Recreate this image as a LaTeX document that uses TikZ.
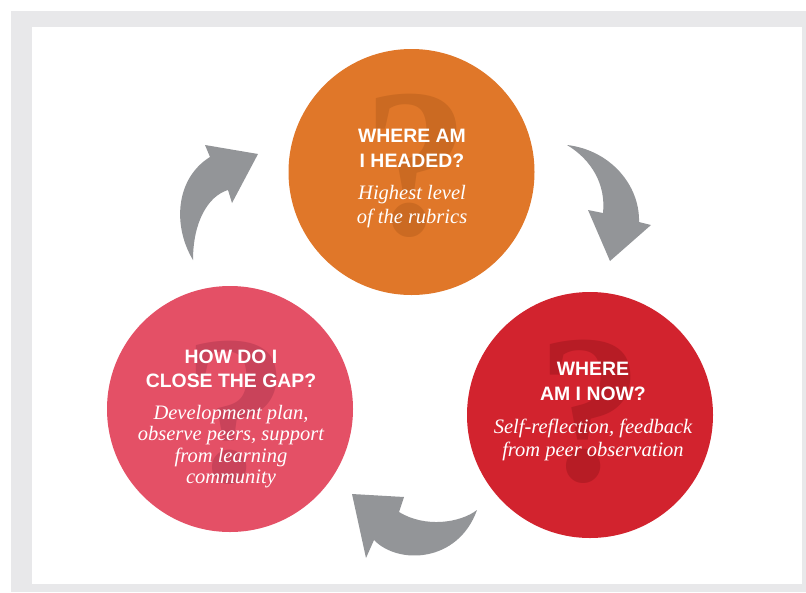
\documentclass[tikz,border=0pt]{standalone}
\usepackage{fontspec}
\setmainfont{Liberation Serif}
\setsansfont{Liberation Sans}
\definecolor{framegray}{HTML}{E8E8EA}
\definecolor{arrowgray}{HTML}{939598}
\definecolor{corange}{HTML}{E07729}
\definecolor{qorange}{HTML}{CB6A22}
\definecolor{cpink}{HTML}{E45066}
\definecolor{qpink}{HTML}{C9435A}
\definecolor{cred}{HTML}{D2232E}
\definecolor{qred}{HTML}{B71C25}
\tikzset{
  circ/.style={circle, inner sep=0pt, minimum size=246pt},
  qmark/.style={anchor=base, inner sep=0pt, font=\fontsize{212}{212}\selectfont\bfseries},
  head/.style={anchor=base, inner sep=0pt, text=white, font=\sffamily\bfseries\fontsize{19.4}{25}\selectfont},
  desc/.style={anchor=base, inner sep=0pt, text=white, font=\itshape\fontsize{20.5}{23}\selectfont},
  cyc/.style={fill=arrowgray},
}
\begin{document}
\begin{tikzpicture}[x=1pt,y=-1pt]
\useasboundingbox (0,0) rectangle (806,592);
% frame
\fill[framegray] (11,11) rectangle (806,592);
\fill[white] (32,27) rectangle (802,584);

% circles
\node[circ, fill=corange] (top) at (411.5,172) {};
\node[circ, fill=cpink] (left) at (230,409) {};
\node[circ, fill=cred] (right) at (590,415) {};

% question marks
\node[qmark, text=qorange] (qtop) at (416,234) {?};
\node[qmark, text=qpink] (qleft) at (236,481) {?};
\node[qmark, text=qred] (qright) at (590,480) {?};

% top texts
\node[head] (t1a) at (412,142) {WHERE AM};
\node[head] (t1b) at (412,167) {I HEADED?};
\node[desc] (d1a) at (412,199) {Highest level};
\node[desc] (d1b) at (412,223) {of the rubrics};

% left texts
\node[head] (t2a) at (231,363) {HOW DO I};
\node[head] (t2b) at (231,387) {CLOSE THE GAP?};
\node[desc] (d2a) at (231,419) {Development plan,};
\node[desc] (d2b) at (231,440) {observe peers, support};
\node[desc] (d2c) at (231,462) {from learning};
\node[desc] (d2d) at (231,483) {community};

% right texts
\node[head] (t3a) at (593,375) {WHERE};
\node[head] (t3b) at (593,400) {AM I NOW?};
\node[desc] (d3a) at (593,433) {Self-reflection, feedback};
\node[desc] (d3b) at (593,456) {from peer observation};

% cycle arrows
% left -> top
\fill[cyc] (193,260) .. controls (172,225) and (176,178) .. (210,157)
  -- (205,145) -- (258,154) -- (232,203) -- (228,190)
  .. controls (208,196) and (193,222) .. (193,260) -- cycle;
% top -> right
\fill[cyc] (567,145) .. controls (610,150) and (640,185) .. (639,222)
  -- (651,225) -- (610,261) -- (588,210) -- (603,213)
  .. controls (606,185) and (592,160) .. (567,145) -- cycle;
% right -> left
\fill[cyc] (477,510) .. controls (460,523) and (425,528) .. (399,512)
  -- (404,497) -- (352,494) -- (366,558) -- (374,540)
  .. controls (398,565) and (458,563) .. (477,510) -- cycle;
\end{tikzpicture}
\end{document}
